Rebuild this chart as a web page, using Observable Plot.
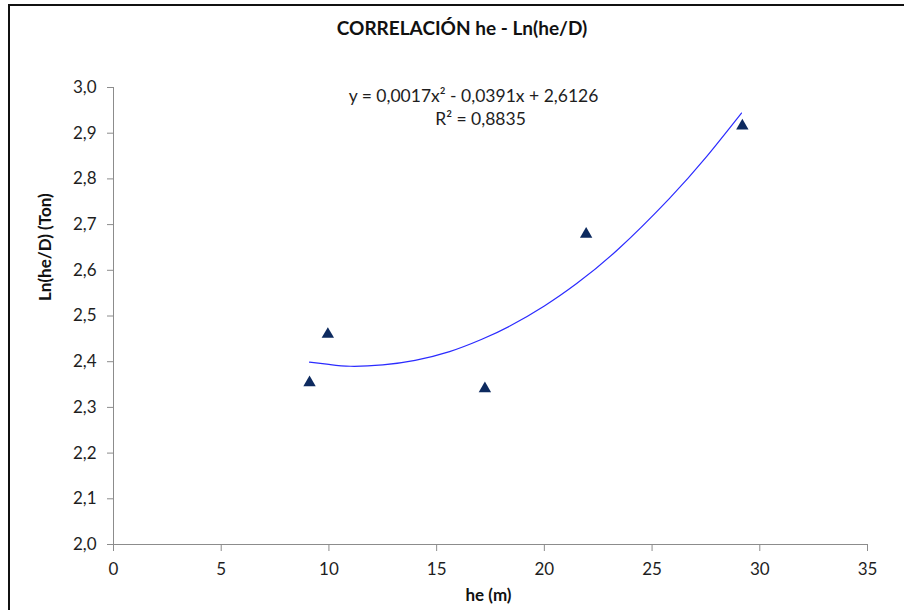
<!DOCTYPE html>
<html>
<head>
<meta charset="utf-8">
<script src="https://cdn.jsdelivr.net/npm/d3@7"></script>
<script src="https://cdn.jsdelivr.net/npm/@observablehq/plot@0.6"></script>
<style>
  html, body { margin: 0; padding: 0; background: #fff; }
  #page { position: relative; width: 904px; height: 610px; overflow: hidden; background: #fff; }
  #frame { position: absolute; left: 8px; top: 4px; width: 900px; height: 610px;
           border-top: 2px solid #111; border-left: 2px solid #111; box-sizing: border-box; }
  #title { position: absolute; left: 0; top: 0; width: 924px; height: 60px; line-height: 56px;
           text-align: center; font-family: Lato, sans-serif; font-weight: bold; font-size: 19px; color: #111; }
  #chart { position: absolute; left: 0; top: 60px; }
</style>
</head>
<body>
<div id="page">
  <div id="frame"></div>
  <div id="title">CORRELACIÓN he - Ln(he/D)</div>
  <div id="chart"></div>
</div>
<script>
// Data
const heValues = [9.10, 9.95, 17.24, 21.94, 29.19];
const lnValues = [2.354, 2.460, 2.341, 2.679, 2.916];

// Polynomial trendline as drawn in the reference
const trendX = [9.1, 10.0, 11.0, 12.5, 14.0, 15.6, 17.1, 18.4, 20.0, 21.5, 23.4, 25.8, 27.5, 29.15];
const trendY = [2.399, 2.394, 2.390, 2.393, 2.403, 2.422, 2.449, 2.478, 2.522, 2.571, 2.645, 2.757, 2.847, 2.944];

const xTicks = [0, 5, 10, 15, 20, 25, 30, 35];
const yTicks = [2.0, 2.1, 2.2, 2.3, 2.4, 2.5, 2.6, 2.7, 2.8, 2.9, 3.0];

const equationText = "y = 0,0017x² - 0,0391x + 2,6126";
const r2Text = "R² = 0,8835";
const xLabel = "he (m)";
const yLabel = "Ln(he/D) (Ton)";

const points = heValues.map((x, i) => ({x, y: lnValues[i]}));
const trend = trendX.map((x, i) => ({x, y: trendY[i]}));

const axisColor = "#8c8c8c";
const textColor = "#1e1e1e";

const chart = Plot.plot({
  width: 904,
  height: 550,
  marginTop: 27,
  marginBottom: 66,
  marginLeft: 113,
  marginRight: 37,
  style: {fontFamily: "Lato, sans-serif", fontSize: "17px", color: textColor, background: "transparent", overflow: "visible"},
  x: {domain: [0, 35]},
  y: {domain: [2, 3]},
  marks: [
    Plot.ruleX([0], {stroke: axisColor}),
    Plot.ruleY([2], {stroke: axisColor}),
    Plot.axisX(xTicks, {tickSize: 7, tickPadding: 11, stroke: axisColor, fill: textColor, label: null, tickFormat: d => String(d)}),
    Plot.axisY(yTicks, {tickSize: 6, tickPadding: 11, stroke: axisColor, fill: textColor, label: null,
      tickFormat: d => d.toFixed(1).replace(".", ",")}),
    Plot.line(trend, {x: "x", y: "y", stroke: "#2b2bff", strokeWidth: 1.2, curve: "natural"}),
    Plot.dot(points, {x: "x", y: "y", symbol: "triangle", r: 4.6, fill: "#0d2a5f"}),
    Plot.text([equationText], {frameAnchor: "top", dx: -17, dy: 9, lineAnchor: "middle", fontSize: 17.5, fill: textColor}),
    Plot.text([r2Text], {frameAnchor: "top", dx: -10, dy: 32, lineAnchor: "middle", fontSize: 17.5, fill: textColor}),
    Plot.text([xLabel], {frameAnchor: "bottom", dx: -2, dy: 51, lineAnchor: "middle", fontSize: 17, fontWeight: "bold", fill: "#111"}),
    Plot.text([yLabel], {frameAnchor: "left", dx: -68, dy: -15, rotate: -90, lineAnchor: "middle", fontSize: 17, fontWeight: "bold", fill: "#111"})
  ]
});
document.getElementById("chart").appendChild(chart);
</script>
</body>
</html>
